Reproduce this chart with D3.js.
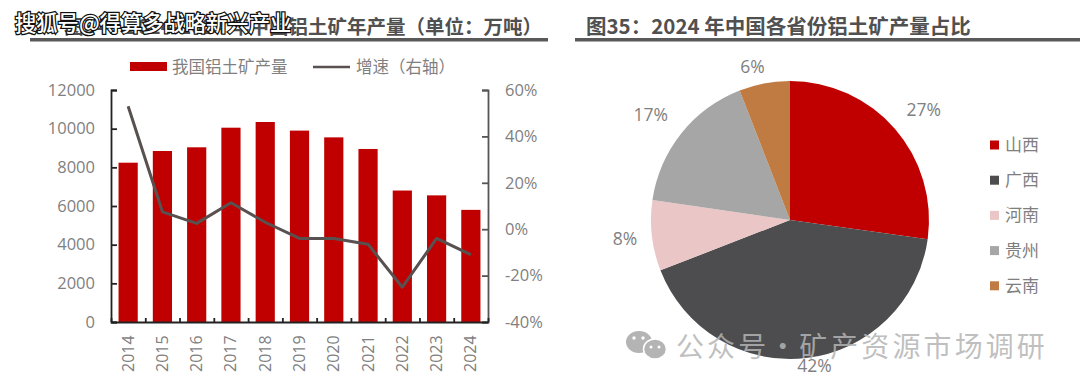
<!DOCTYPE html>
<html>
<head>
<meta charset="utf-8">
<script src="https://cdn.jsdelivr.net/npm/d3@7"></script>
<style>
html, body { margin: 0; padding: 0; background: #fff; }
text { font-family: "Open Sans", "Noto Sans CJK SC", sans-serif; }
.cjk { font-family: "Noto Sans CJK SC", sans-serif; }
</style>
</head>
<body>
<div id="chart"></div>
<script>
// values
var years = ['2014','2015','2016','2017','2018','2019','2020','2021','2022','2023','2024'];
var output = [8240,8845,9036,10050,10345,9900,9550,8950,6800,6550,5800];
var growth = [53,7.5,2.5,11.4,3,-4,-4,-6.5,-25,-4,-11];
var output_ticks = [0,2000,4000,6000,8000,10000,12000];
var growth_ticks = [-40,-20,0,20,40,60];

var provinces = ['山西','广西','河南','贵州','云南'];
var shares = [27.2,41.9,8.2,16.8,5.9];
var colors = ['#c00000','#4d4d4f','#eac6c6','#a6a6a6','#bf7b41'];

var width  = 1080;
var height = 389;
var left   = 111;
var right  = 488;
var top_y  = 90;
var bottom = 322;
var text_color = '#7f7f7f';

var svg = d3.select('#chart')
            .append('svg')
            .attr('width', width)
            .attr('height', height)
            .style('display', 'block');

// Titles and rules
svg.append('text')
    .attr('class', 'cjk')
    .attr('x', 542).attr('y', 34)
    .attr('text-anchor', 'end')
    .style('font-size', '19.5px').style('font-weight', 700)
    .style('fill', '#505050')
    .text('图34\uFF1A2014-2024 年中国铝土矿年产量\uFF08单位\uFF1A万吨\uFF09');
svg.append('rect').attr('x', 30).attr('y', 38).attr('width', 518).attr('height', 3.5).style('fill', '#595959');

svg.append('text')
    .attr('class', 'cjk')
    .attr('x', 586).attr('y', 34)
    .style('font-size', '20.5px').style('font-weight', 700)
    .style('fill', '#505050')
    .text('图35\uFF1A2024 年中国各省份铝土矿产量占比');
svg.append('rect').attr('x', 575).attr('y', 38).attr('width', 505).attr('height', 3.5).style('fill', '#595959');

// Scales
var x_scale = d3.scaleBand()
                .domain(years)
                .range([left, right])
                .paddingInner(0.44)
                .paddingOuter(0.22);
var x_edges = d3.scaleLinear().domain([0, years.length]).range([left, right]);
var y_scale = d3.scaleLinear().domain([0, 12000]).range([bottom, top_y]);
var y2_scale = d3.scaleLinear().domain([-40, 60]).range([bottom, top_y]);

// Bars
svg.append('g')
    .selectAll('rect')
    .data(output)
    .enter()
    .append('rect')
    .attr('x', function(d, i) { return x_scale(years[i]); })
    .attr('y', function(d) { return y_scale(d); })
    .attr('width', x_scale.bandwidth())
    .attr('height', function(d) { return bottom - y_scale(d); })
    .style('fill', '#c00000');

// Axes
var y_axis = d3.axisLeft(y_scale)
               .tickValues(output_ticks)
               .tickSizeInner(-6).tickSizeOuter(-6)
               .tickPadding(16)
               .tickFormat(d3.format('d'));
var y_g = svg.append('g').attr('transform', 'translate(' + left + ',0)').call(y_axis);

var y2_axis = d3.axisRight(y2_scale)
                .tickValues(growth_ticks)
                .tickSizeInner(-6).tickSizeOuter(-6)
                .tickPadding(17)
                .tickFormat(function(d) { return d + '%'; });
var y2_g = svg.append('g').attr('transform', 'translate(' + right + ',0)').call(y2_axis);

var x_axis = d3.axisBottom(x_edges)
               .tickValues(d3.range(years.length + 1))
               .tickSizeInner(-4).tickSizeOuter(0)
               .tickFormat('');
svg.append('g').attr('transform', 'translate(0,' + bottom + ')').call(x_axis)
    .selectAll('path, line').style('stroke', '#222').style('stroke-width', 1.8);

[y_g, y2_g].forEach(function(g) {
    g.selectAll('path, line').style('stroke', '#222').style('stroke-width', 1.8);
    g.selectAll('text').style('font-size', '16.5px').style('fill', text_color)
        .style('font-family', '"Open Sans", sans-serif');
});
y2_g.selectAll('path, line').style('stroke', '#555');

// Year labels
svg.append('g')
    .selectAll('text')
    .data(years)
    .enter()
    .append('text')
    .attr('transform', function(d) {
        return 'translate(' + (x_scale(d) + x_scale.bandwidth() / 2 + 5.5) + ',' + (bottom + 50) + ') rotate(-90)';
    })
    .style('font-size', '16px')
    .style('fill', text_color)
    .text(function(d) { return d; });

// Growth line
var line = d3.line()
             .x(function(d, i) { return x_scale(years[i]) + x_scale.bandwidth() / 2; })
             .y(function(d) { return y2_scale(d); });
svg.append('path')
    .datum(growth)
    .attr('fill', 'none')
    .attr('stroke', '#595050')
    .attr('stroke-width', 3)
    .attr('stroke-linejoin', 'round')
    .attr('d', line);

// Legend
svg.append('rect').attr('x', 130).attr('y', 62).attr('width', 37).attr('height', 9).style('fill', '#c00000');
svg.append('text').attr('class', 'cjk').attr('x', 172).attr('y', 72.5)
    .style('font-size', '16.5px').style('fill', text_color).text('我国铝土矿产量');
svg.append('line').attr('x1', 313).attr('x2', 350).attr('y1', 67).attr('y2', 67)
    .style('stroke', '#595050').style('stroke-width', 2.5);
svg.append('text').attr('class', 'cjk').attr('x', 356).attr('y', 72.5)
    .style('font-size', '16.5px').style('fill', text_color).text('增速\uFF08右轴\uFF09');

// Pie
var pie_x = 790;
var pie_y = 220;
var radius = 139;
var pie = d3.pie().sort(null).value(function(d) { return d; });
var arc = d3.arc().innerRadius(0).outerRadius(radius);
var pie_g = svg.append('g').attr('transform', 'translate(' + pie_x + ',' + pie_y + ')');
pie_g.selectAll('path')
    .data(pie(shares))
    .enter()
    .append('path')
    .attr('d', arc)
    .style('fill', function(d, i) { return colors[i]; });

// Pie labels sit outside the slices, nudged by hand
var label_arc = d3.arc().innerRadius(160).outerRadius(160);
var label_nudge = [[13,-5],[6,-13],[-6,1],[-14,-5],[-8,4]];
pie_g.selectAll('text')
    .data(pie(shares))
    .enter()
    .append('text')
    .attr('transform', function(d, i) {
        var c = label_arc.centroid(d);
        return 'translate(' + (c[0] + label_nudge[i][0]) + ',' + (c[1] + label_nudge[i][1]) + ')';
    })
    .attr('text-anchor', 'middle')
    .attr('dy', '0.35em')
    .style('font-size', '17.5px')
    .style('fill', text_color)
    .text(function(d) { return Math.round(d.value) + '%'; });

// Pie legend
var legend = svg.append('g').selectAll('g')
    .data(provinces)
    .enter()
    .append('g')
    .attr('transform', function(d, i) { return 'translate(990,' + (145 + i * 35.2) + ')'; });
legend.append('rect').attr('x', 0).attr('y', -4.5).attr('width', 9).attr('height', 9)
    .style('fill', function(d, i) { return colors[i]; });
legend.append('text').attr('class', 'cjk').attr('x', 15).attr('y', 6)
    .style('font-size', '17px').style('fill', text_color)
    .text(function(d) { return d; });

// Watermarks
svg.append('text')
    .attr('class', 'cjk')
    .attr('x', 15).attr('y', 31)
    .style('font-size', '21.3px').style('font-weight', 500)
    .style('fill', '#fff')
    .style('stroke', '#111').style('stroke-width', 2.5)
    .style('paint-order', 'stroke')
    .text('搜狐号@得算多战略新兴产业');

var wechat = svg.append('g');
wechat.append('ellipse').attr('cx', 639).attr('cy', 342).attr('rx', 13).attr('ry', 11).style('fill', '#b4b4b4');
wechat.append('ellipse').attr('cx', 655).attr('cy', 349).attr('rx', 11.5).attr('ry', 10).style('fill', '#b4b4b4').style('stroke', '#fff').style('stroke-width', 1.5);
wechat.append('circle').attr('cx', 634).attr('cy', 338).attr('r', 1.7).style('fill', '#fff');
wechat.append('circle').attr('cx', 643).attr('cy', 338).attr('r', 1.7).style('fill', '#fff');
wechat.append('circle').attr('cx', 651).attr('cy', 347).attr('r', 1.5).style('fill', '#fff');
wechat.append('circle').attr('cx', 659).attr('cy', 347).attr('r', 1.5).style('fill', '#fff');
svg.append('text')
    .attr('class', 'cjk')
    .attr('x', 676).attr('y', 357)
    .style('font-size', '28px')
    .style('letter-spacing', '3.1px')
    .style('word-spacing', '-10px')
    .style('fill', '#b4b4b4')
    .style('fill-opacity', 0.85)
    .text('公众号 \u00B7 矿产资源市场调研');
</script>
</body>
</html>
